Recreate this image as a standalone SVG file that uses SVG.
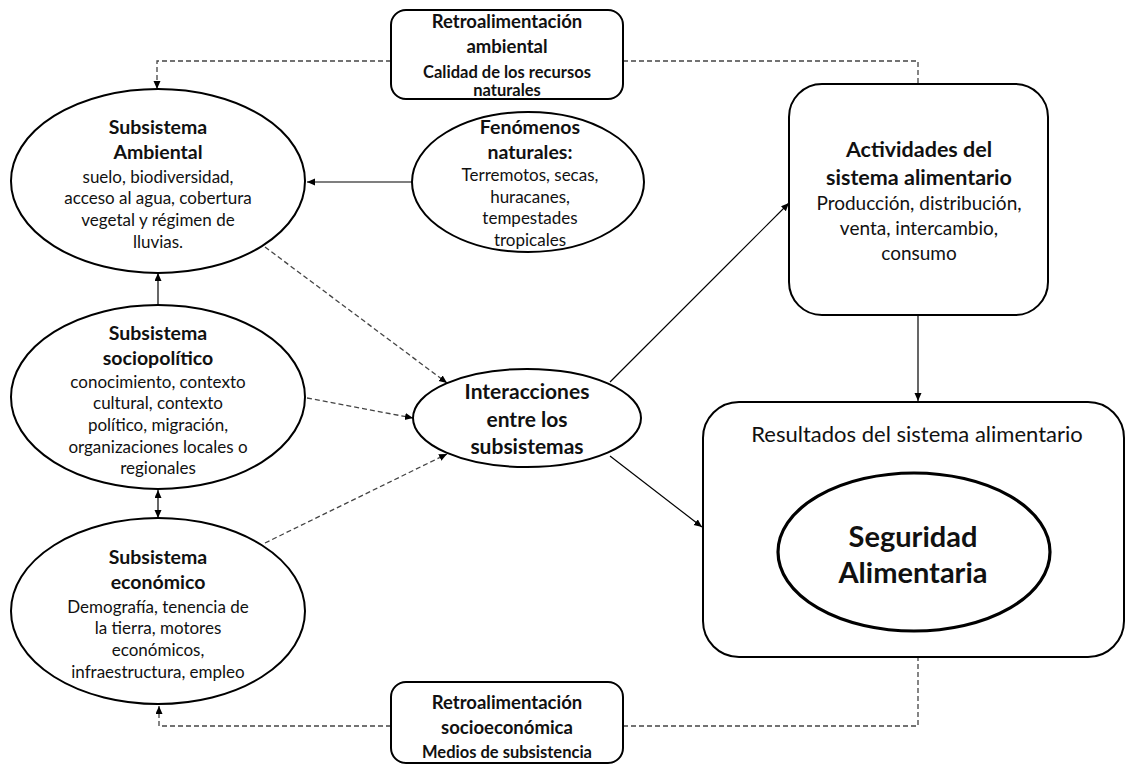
<svg xmlns="http://www.w3.org/2000/svg" width="1126" height="767" viewBox="0 0 1126 767">
<style>
text{font-family:Lato,"Open Sans","Liberation Sans",sans-serif;fill:#111;text-anchor:middle}
.b{font-weight:bold}
.shape{fill:#fff;stroke:#000;stroke-width:2}
.thick{fill:#fff;stroke:#000;stroke-width:3.2}
.solid{fill:none;stroke:#000;stroke-width:1.2}
.dash{fill:none;stroke:#444;stroke-width:1.3;stroke-dasharray:5 3}
.body{font-size:17px}
.ttl{font-size:19.5px;font-weight:bold}
.rt{font-size:18.5px;font-weight:bold}
.rs{font-size:16.5px;font-weight:bold}
</style>
<defs>
<marker id="ah" markerUnits="userSpaceOnUse" markerWidth="9" markerHeight="8" refX="8" refY="3.5" orient="auto-start-reverse">
<path d="M0,0 L8,3.5 L0,7 z" fill="#000"/>
</marker>
</defs>
<rect width="1126" height="767" fill="#fff"/>
<g id="connectors">
<path class="dash" d="M391,61 H157 V89" marker-end="url(#ah)"/>
<path class="dash" d="M623,61 H918 V84"/>
<path class="dash" d="M391,726 H159 V706" marker-end="url(#ah)"/>
<path class="dash" d="M623,726 H918 V657"/>
<line class="solid" x1="412" y1="182" x2="307" y2="182" marker-end="url(#ah)"/>
<line class="solid" x1="158" y1="306" x2="158" y2="273" marker-end="url(#ah)"/>
<line class="solid" x1="158" y1="490" x2="158" y2="518" marker-start="url(#ah)" marker-end="url(#ah)"/>
<line class="dash" x1="265" y1="247" x2="447" y2="383" marker-end="url(#ah)"/>
<line class="dash" x1="307" y1="398" x2="413" y2="418" marker-end="url(#ah)"/>
<line class="dash" x1="265" y1="543" x2="447" y2="454" marker-end="url(#ah)"/>
<line class="solid" x1="610" y1="382" x2="789" y2="203" marker-end="url(#ah)"/>
<line class="solid" x1="610" y1="456" x2="702" y2="527" marker-end="url(#ah)"/>
<line class="solid" x1="918" y1="315" x2="918" y2="401" marker-end="url(#ah)"/>
</g>
<g id="retro-ambiental">
<rect class="shape" x="391" y="10" width="232" height="89" rx="15"/>
<text class="rt" x="507" y="28">Retroalimentación</text>
<text class="rt" x="507" y="53">ambiental</text>
<text class="rs" x="507" y="78">Calidad de los recursos</text>
<text class="rs" x="507" y="96">naturales</text>
</g>
<g id="sub-ambiental">
<ellipse class="shape" cx="158" cy="181" rx="147" ry="92"/>
<text class="ttl" x="158" y="134">Subsistema</text>
<text class="ttl" x="158" y="159">Ambiental</text>
<text class="body" x="158" y="183">suelo, biodiversidad,</text>
<text class="body" x="158" y="204">acceso al agua, cobertura</text>
<text class="body" x="158" y="226">vegetal y régimen de</text>
<text class="body" x="158" y="248">lluvias.</text>
</g>
<g id="fenomenos">
<ellipse class="shape" cx="528" cy="182" rx="116" ry="70"/>
<text class="ttl" x="530" y="134">Fenómenos</text>
<text class="ttl" x="530" y="159">naturales:</text>
<text class="body" x="530" y="181">Terremotos, secas,</text>
<text class="body" x="530" y="203">huracanes,</text>
<text class="body" x="530" y="224">tempestades</text>
<text class="body" x="530" y="246">tropicales</text>
</g>
<g id="sub-sociopolitico">
<ellipse class="shape" cx="158" cy="397" rx="147" ry="92"/>
<text class="ttl" x="158" y="340">Subsistema</text>
<text class="ttl" x="158" y="365">sociopolítico</text>
<text class="body" x="158" y="388">conocimiento, contexto</text>
<text class="body" x="158" y="409">cultural, contexto</text>
<text class="body" x="158" y="431">político, migración,</text>
<text class="body" x="158" y="453">organizaciones locales o</text>
<text class="body" x="158" y="474">regionales</text>
</g>
<g id="sub-economico">
<ellipse class="shape" cx="158" cy="611" rx="147" ry="93"/>
<text class="ttl" x="158" y="564">Subsistema</text>
<text class="ttl" x="158" y="589">económico</text>
<text class="body" x="158" y="613">Demografía, tenencia de</text>
<text class="body" x="158" y="634">la tierra, motores</text>
<text class="body" x="158" y="656">económicos,</text>
<text class="body" x="158" y="678">infraestructura, empleo</text>
</g>
<g id="interacciones">
<ellipse class="shape" cx="527" cy="418" rx="114" ry="49"/>
<text class="b" font-size="21" x="527" y="399">Interacciones</text>
<text class="b" font-size="21" x="527" y="427">entre los</text>
<text class="b" font-size="21" x="527" y="454">subsistemas</text>
</g>
<g id="actividades">
<rect class="shape" x="789" y="84" width="259" height="231" rx="33"/>
<text class="b" font-size="21.5" x="919" y="157">Actividades del</text>
<text class="b" font-size="21.5" x="919" y="185">sistema alimentario</text>
<text font-size="19" x="919" y="210">Producción, distribución,</text>
<text font-size="19" x="919" y="235">venta, intercambio,</text>
<text font-size="19" x="919" y="260">consumo</text>
</g>
<g id="resultados">
<rect class="shape" x="703" y="402" width="421" height="255" rx="36"/>
<text font-size="22" x="917" y="442">Resultados del sistema alimentario</text>
</g>
<g id="seguridad">
<ellipse class="thick" cx="914" cy="552" rx="136" ry="79"/>
<text class="b" font-size="29" x="913" y="547">Seguridad</text>
<text class="b" font-size="29" x="913" y="583">Alimentaria</text>
</g>
<g id="retro-socioeconomica">
<rect class="shape" x="391" y="682" width="232" height="81" rx="15"/>
<text class="rt" x="507" y="709">Retroalimentación</text>
<text class="rt" x="507" y="734">socioeconómica</text>
<text class="rs" x="507" y="758">Medios de subsistencia</text>
</g>
</svg>
